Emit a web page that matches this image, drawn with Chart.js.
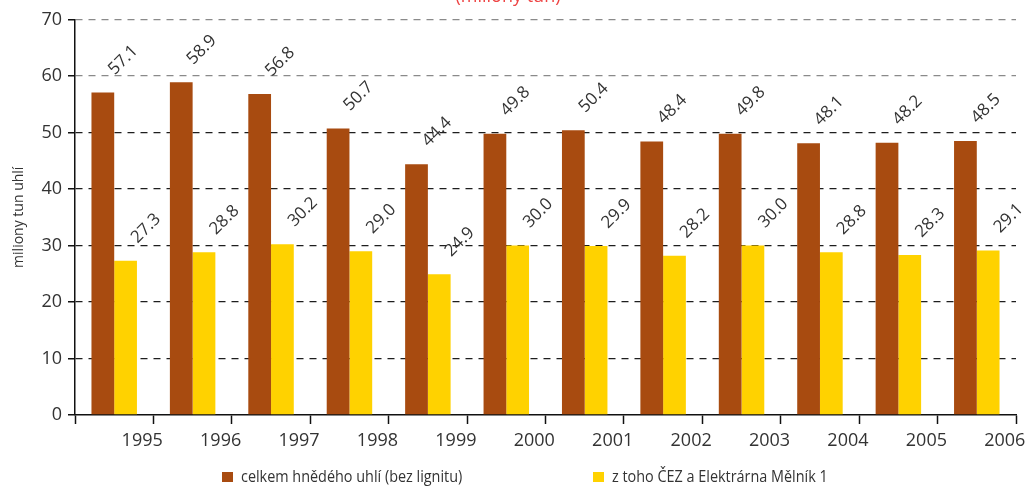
<!DOCTYPE html>
<html>
<head>
<meta charset="utf-8">
<script src="https://cdn.jsdelivr.net/npm/chart.js@4/dist/chart.umd.min.js"></script>
<style>
  html, body { margin: 0; padding: 0; background: #ffffff; }
  #wrap { width: 1027px; height: 486px; position: relative; overflow: hidden; }
</style>
</head>
<body>
<div id="wrap"><canvas id="coal" width="1027" height="486"></canvas></div>
<script>
// Brown coal output, million tonnes per year
const years = ['1995', '1996', '1997', '1998', '1999', '2000', '2001', '2002', '2003', '2004', '2005', '2006'];
const totalBrownCoal = [57.1, 58.9, 56.8, 50.7, 44.4, 49.8, 50.4, 48.4, 49.8, 48.1, 48.2, 48.5];
const cezAndMelnik = [27.3, 28.8, 30.2, 29.0, 24.9, 30.0, 29.9, 28.2, 30.0, 28.8, 28.3, 29.1];
const seriesNames = ['celkem hnědého uhlí (bez lignitu)', 'z toho ČEZ a Elektrárna Mělník 1'];
const unitTitle = '(miliony tun)';
const yAxisTitle = 'miliony tun uhlí';
const yRange = { min: 0, max: 70, step: 10 };

const BROWN = '#a84b10';
const YELLOW = '#ffd200';
const TEXT = '#333333';
const NUM_FONT = '"Open Sans", "Noto Sans", sans-serif';

// Rotated value labels above each bar
const valueLabels = {
  id: 'valueLabels',
  afterDatasetsDraw(chart) {
    const ctx = chart.ctx;
    chart.data.datasets.forEach((ds, i) => {
      const meta = chart.getDatasetMeta(i);
      meta.data.forEach((bar, j) => {
        ctx.save();
        ctx.translate(bar.x + 12, bar.y - 17);
        ctx.rotate(-Math.PI / 4);
        ctx.font = '17px ' + NUM_FONT;
        ctx.fillStyle = TEXT;
        ctx.textAlign = 'left';
        ctx.textBaseline = 'alphabetic';
        ctx.fillText(ds.data[j].toFixed(1), 0, 0);
        ctx.restore();
      });
    });
  }
};

// Single-row legend under the axis, in a slightly condensed face
const legendRow = {
  id: 'legendRow',
  afterDraw(chart) {
    const ctx = chart.ctx;
    const itemX = [222, 593];
    const baseY = 482;
    ctx.save();
    ctx.font = '16px ' + NUM_FONT;
    ctx.textBaseline = 'alphabetic';
    ctx.textAlign = 'left';
    chart.data.datasets.forEach((ds, i) => {
      ctx.fillStyle = ds.backgroundColor;
      ctx.fillRect(itemX[i], baseY - 10, 11, 10);
      ctx.save();
      ctx.translate(itemX[i] + 19, baseY);
      ctx.scale(0.9, 1);
      ctx.fillStyle = TEXT;
      ctx.fillText(ds.label, 0, 0);
      ctx.restore();
    });
    ctx.restore();
  }
};

new Chart(document.getElementById('coal'), {
  type: 'bar',
  data: {
    labels: years,
    datasets: [
      { label: seriesNames[0], data: totalBrownCoal, backgroundColor: BROWN,
        categoryPercentage: 0.58, barPercentage: 1.0 },
      { label: seriesNames[1], data: cezAndMelnik, backgroundColor: YELLOW,
        categoryPercentage: 0.58, barPercentage: 1.0 }
    ]
  },
  options: {
    responsive: false,
    animation: false,
    layout: { padding: { left: 0, right: 11, top: 0, bottom: 0 } },
    plugins: {
      legend: { display: false },
      tooltip: { enabled: false },
      title: {
        display: true,
        text: unitTitle,
        color: '#ee4444',
        font: { family: NUM_FONT, size: 18, weight: 'normal' },
        padding: { top: -13.6, bottom: 11.5 }
      }
    },
    scales: {
      x: {
        offset: true,
        grid: {
          display: true,
          offset: true,
          drawOnChartArea: false,
          tickLength: 9,
          tickColor: '#111111',
          tickWidth: 1.5
        },
        border: { display: true, color: '#111111', width: 1.5 },
        ticks: {
          color: TEXT,
          font: { family: NUM_FONT, size: 18 },
          labelOffset: 28,
          padding: 6,
          maxRotation: 0,
          autoSkip: false
        },
        afterFit(scale) { scale.height = 71; }
      },
      y: {
        min: yRange.min,
        max: yRange.max,
        grid: {
          color: (c) => {
            if (!c.tick || c.tick.value === 0) return 'rgba(0,0,0,0)';
            return c.tick.value >= 60 ? '#8a8a8a' : '#1e1e1e';
          },
          lineWidth: 1.3,
          tickBorderDash: [1, 0],
          tickColor: '#111111',
          tickLength: 7,
          tickWidth: 1.5
        },
        border: { display: true, color: '#111111', width: 1.5, dash: [7, 6] },
        ticks: {
          stepSize: yRange.step,
          color: TEXT,
          font: { family: NUM_FONT, size: 18 },
          padding: 6
        },
        title: {
          display: true,
          text: yAxisTitle,
          color: TEXT,
          font: { family: NUM_FONT, size: 14 },
          padding: { top: 11, bottom: 0 }
        },
        afterFit(scale) { scale.width = 75; }
      }
    }
  },
  plugins: [valueLabels, legendRow]
});
</script>
</body>
</html>
